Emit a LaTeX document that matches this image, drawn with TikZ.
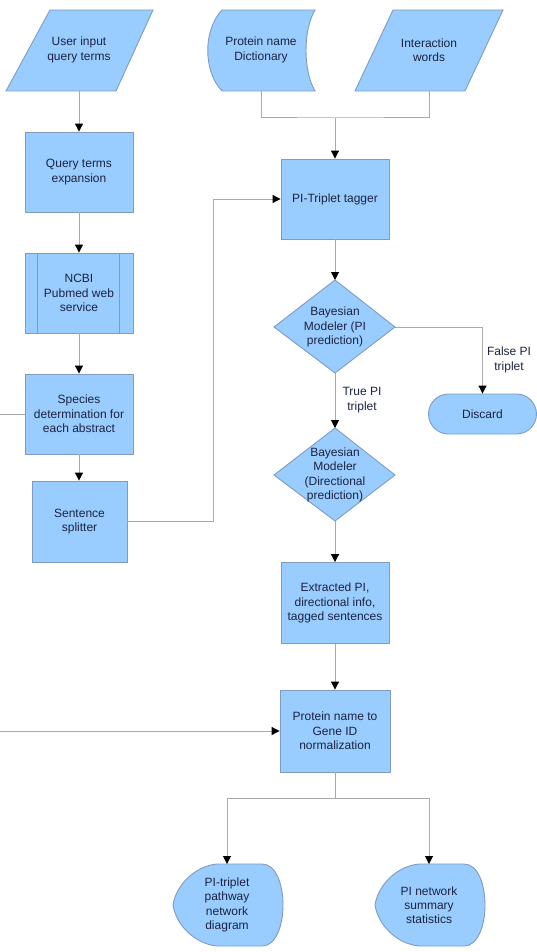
\documentclass[tikz,border=0pt]{standalone}
\usepackage{fontspec}
\setmainfont{Liberation Sans}
\usetikzlibrary{arrows.meta}
\definecolor{boxfill}{HTML}{99CCFF}
\definecolor{boxline}{HTML}{7F9CC0}
\definecolor{conncol}{HTML}{A9A9A9}
\definecolor{txtcol}{HTML}{1C2340}
\begin{document}
\begin{tikzpicture}[x=1pt,y=-1pt,
  shp/.style={draw=boxline,fill=boxfill,line width=0.9pt},
  box/.style={shp,rectangle,minimum width=108pt,minimum height=80pt,align=center,inner sep=0pt},
  txt/.style={align=center,inner sep=0pt,text=txtcol,font=\fontsize{12}{14.3}\selectfont},
  every node/.append style={text=txtcol,font=\fontsize{12}{14.3}\selectfont},
  gline/.style={draw=conncol,line width=1pt},
  conn/.style={gline,-{Triangle[length=8pt,width=8pt,color=black]}},
  lbl/.style={txt}
]
\useasboundingbox (0,0) rectangle (537,952);

% --- input shapes ---
\draw[shp] (50,10) -- (153,10) -- (116,91) -- (6,91) -- cycle;
\node[txt] (user) at (79,50) {User input\\query terms};
\coordinate (userB) at (79,91);

\draw[shp] (222,10) -- (315,10) .. controls (303,30) and (303,71) .. (315,91)
  -- (222,91) .. controls (203,71) and (203,30) .. (222,10);
\node[txt] (pdict) at (261,50) {Protein name\\Dictionary};
\coordinate (pdictB) at (261,91);

\draw[shp] (393,10) -- (503,10) -- (465,91) -- (355,91) -- cycle;
\node[txt] (iw) at (429,50) {Interaction\\words};
\coordinate (iwB) at (429,91);

% --- left column ---
\node[box] (qte) at (79,172) {Query terms\\expansion};
\node[box] (ncbi) at (79,293) {NCBI\\Pubmed web\\service};
\draw[boxline,line width=0.9pt] ([xshift=13pt]ncbi.north west) -- ([xshift=13pt]ncbi.south west);
\draw[boxline,line width=0.9pt] ([xshift=-14pt]ncbi.north east) -- ([xshift=-14pt]ncbi.south east);
\node[box] (species) at (79,414) {Species\\determination for\\each abstract};
\node[box,minimum width=95pt,minimum height=81pt] (split) at (79.5,521.5) {Sentence\\splitter};

% --- right column ---
\node[box] (tagger) at (335,199) {PI-Triplet tagger};

\draw[shp] (335,280) -- (395,327) -- (335,373) -- (274,327) -- cycle;
\node[txt] (d1) at (335,327) {Bayesian\\Modeler (PI\\prediction)};
\coordinate (d1T) at (335,280);
\coordinate (d1B) at (335,373);
\coordinate (d1R) at (395,327);

\node[shp,rectangle,rounded corners=20pt,minimum width=108pt,minimum height=40pt] (discard) at (482.5,414) {Discard};

\draw[shp] (335,428) -- (395,475) -- (335,521) -- (274,475) -- cycle;
\node[txt] (d2) at (335,475) {Bayesian\\Modeler\\(Directional\\prediction)};
\coordinate (d2T) at (335,428);
\coordinate (d2B) at (335,521);

\node[box,minimum height=81pt] (extr) at (335,603) {Extracted PI,\\directional info,\\tagged sentences};
\node[box,minimum width=110pt,minimum height=82pt] (norm) at (335,731) {Protein name to\\Gene ID\\normalization};

% --- output displays ---
\draw[shp] (217,864) -- (262,864) .. controls (290,864) and (290,946) .. (262,946)
  -- (217,946) .. controls (195,944) and (176,925) .. (173,905)
  .. controls (176,885) and (195,866) .. (217,864);
\node[txt] (out1) at (227,905) {PI-triplet\\pathway\\network\\diagram};
\coordinate (out1T) at (227,864);

\draw[shp] (419,864) -- (464,864) .. controls (492,864) and (492,946) .. (464,946)
  -- (419,946) .. controls (397,944) and (378,925) .. (375,905)
  .. controls (378,885) and (397,866) .. (419,864);
\node[txt] (out2) at (429,905) {PI network\\summary\\statistics};
\coordinate (out2T) at (429,864);

% --- connectors ---
\draw[conn] (userB) -- (qte.north);
\draw[conn] (qte.south) -- (ncbi.north);
\draw[conn] (ncbi.south) -- (species.north);
\draw[conn] (species.south) -- (species.south |- split.north);
\draw[conn] (split.east) -- (213,521.5) |- (tagger.west);

\coordinate (join) at (335,118);
\draw[gline] (pdictB) |- (join) -| (iwB);
\draw[conn] (join) -- (tagger.north);

\draw[conn] (tagger.south) -- (d1T);
\draw[conn] (d1R) -| (discard.north);
\node[lbl] (falselbl) at (509,360) {False PI\\triplet};
\draw[conn] (d1B) -- (d2T);
\node[lbl] (truelbl) at (362,400) {True PI\\triplet};
\draw[conn] (d2B) -- (extr.north);
\draw[conn] (extr.south) -- (norm.north);

\coordinate (leftA) at (0,414);
\draw[gline] (species.west) -- (leftA);
\coordinate (leftB) at (0,731);
\draw[conn] (leftB) -- (norm.west);

\coordinate (split2) at (335,798);
\draw[gline] (norm.south) -- (split2);
\draw[conn] (split2) -| (out1T);
\draw[conn] (split2) -| (out2T);
\end{tikzpicture}
\end{document}
